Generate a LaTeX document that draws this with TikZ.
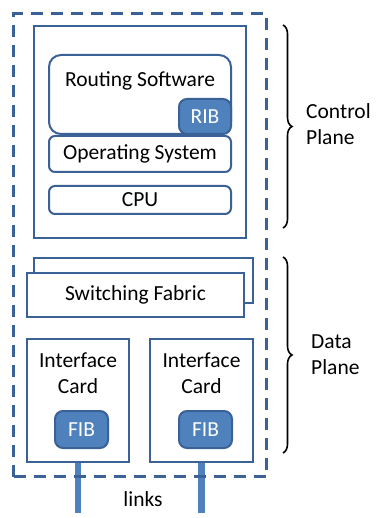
\documentclass[tikz,border=0pt]{standalone}
\usepackage{fontspec}
\setmainfont{Carlito}
\usetikzlibrary{calc, decorations.pathreplacing}

\definecolor{boxline}{HTML}{3B6296}
\definecolor{boxfill}{HTML}{4F81BD}

\tikzset{
    plain/.style={draw=boxline, line width=2pt, fill=white, inner sep=0pt},
    soft/.style={plain, rounded corners=6pt},
    tag/.style={draw=boxline, line width=2pt, fill=boxfill, text=white, rounded corners=8pt, inner sep=0pt},
    txt/.style={inner sep=0pt, align=center, font=\fontsize{21.5}{26}\selectfont},
    plane/.style={decorate, decoration={brace, amplitude=9pt}, line width=1.6pt}
}

\begin{document}
\begin{tikzpicture}[x=1pt, y=-1pt]
            \useasboundingbox (0,0) rectangle (376,518);

            % links leaving the cards
            \node[plain, anchor=north west, minimum width=102, minimum height=123] (ic1) at (26,338) {};
            \node[plain, anchor=north west, minimum width=103, minimum height=123] (ic2) at (149,338) {};
            \coordinate (l1) at ($(ic1.south)+(0,50)$);
            \coordinate (l2) at ($(ic2.south)+(0,50)$);
            \draw[boxfill, line width=6.5pt] (ic1.south) -- (l1);
            \draw[boxfill, line width=6.5pt] (ic2.south) -- (l2);
            \node[txt] (links) at (143,499) {links};

            % router outline
            \node[draw=boxline, line width=3.2pt, dash pattern=on 12pt off 8pt, anchor=north west,
                  minimum width=253, minimum height=463, inner sep=0pt] (router) at (12,12) {};

            % control plane
            \node[plain, anchor=north west, minimum width=212, minimum height=212] (ctrl) at (33,25) {};
            \node[plain, rounded corners=12pt, anchor=north west, minimum width=182, minimum height=79] (rs) at (48,54) {};
            \node[txt] (rstxt) at ($(rs.north)+(0,27)$) {Routing Software};
            \node[tag, anchor=south east, minimum width=52, minimum height=35, font=\fontsize{21.5}{24}\selectfont] (rib) at (rs.south east) {RIB};
            \node[soft, anchor=north west, minimum width=182, minimum height=36, font=\fontsize{21.5}{24}\selectfont] (os) at (48,135) {Operating System};
            \node[soft, anchor=north west, minimum width=182, minimum height=28, font=\fontsize{21.5}{24}\selectfont] (cpu) at (48,185) {CPU};

            % data plane
            \node[plain, anchor=north west, minimum width=219, minimum height=45] (sfback) at (33,257) {};
            \node[plain, anchor=north west, minimum width=217, minimum height=44, font=\fontsize{21.5}{24}\selectfont] (sf) at (26,272) {Switching Fabric};
            \node[txt] (ic1txt) at ($(ic1.north)+(0,35)$) {Interface\\Card};
            \node[txt] (ic2txt) at ($(ic2.north)+(0,35)$) {Interface\\Card};
            \node[tag, anchor=north west, minimum width=53, minimum height=37, font=\fontsize{21.5}{24}\selectfont] (fib1) at (54,410) {FIB};
            \node[tag, anchor=north west, minimum width=53, minimum height=37, font=\fontsize{21.5}{24}\selectfont] (fib2) at (178,410) {FIB};

            % braces
            \coordinate (ctop) at (283,25);
            \coordinate (cbot) at (283,228);
            \coordinate (dtop) at (283,257);
            \coordinate (dbot) at (283,453);
            \draw[plane] (ctop) -- (cbot);
            \draw[plane] (dtop) -- (dbot);
            \node[txt, align=left, anchor=west] (cp) at (306,124) {Control\\Plane};
            \node[txt, align=left, anchor=west] (dp) at (311,355) {Data\\Plane};
        \end{tikzpicture}
\end{document}
